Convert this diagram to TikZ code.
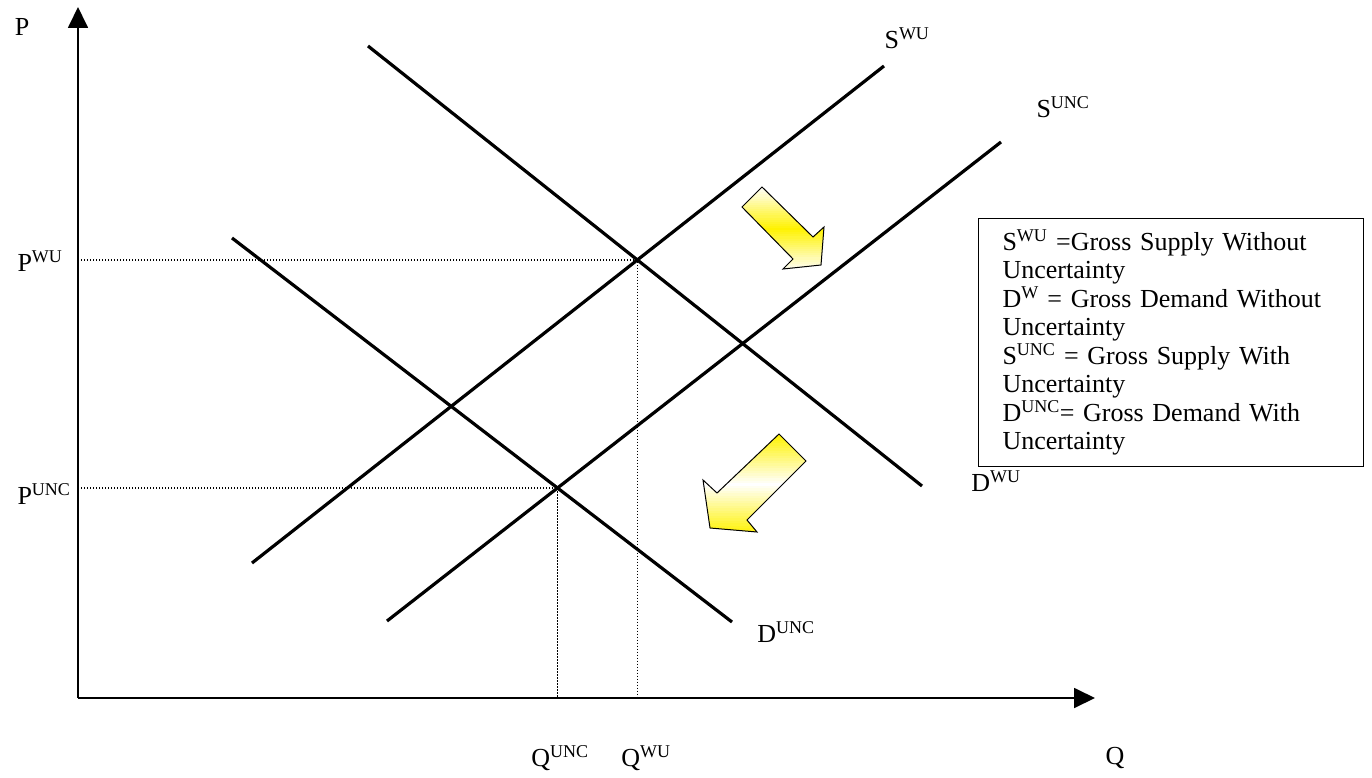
\documentclass[tikz,border=0pt]{standalone}
\usepackage{fontspec}
\setmainfont{Liberation Serif}
\usetikzlibrary{positioning,calc,arrows.meta}
\newcommand{\supx}[1]{\textsuperscript{\fontsize{18}{18}\selectfont #1}}

\begin{document}
\begin{tikzpicture}[x=1pt, y=-1pt,
    curve/.style={line width=3.2pt},
    axis/.style={line width=1.8pt, -{Triangle[length=21pt, width=20pt]}},
    guide/.style={line width=1.3pt, dash pattern=on 1.4pt off 1.6pt},
    lbl/.style={font=\fontsize{26}{29}\selectfont, inner sep=0pt},
    legend/.style={draw, line width=1pt, align=left, text width=337pt, inner xsep=24pt, inner ysep=11pt, font=\fontsize{26}{28.5}\selectfont},
    blockarrow/.style={draw, line width=1pt, line join=miter}
  ]
    \useasboundingbox (0,0) rectangle (1372,778);

    % axes
    \coordinate (origin) at (78,698);
    \coordinate (ptip) at (78,7);
    \coordinate (qtip) at (1095,698);
    \draw[axis] (origin) -- (ptip);
    \draw[axis] (origin) -- (qtip);

    % supply and demand curves
    \coordinate (swuA) at (252,563);   \coordinate (swuB) at (884,66);
    \coordinate (suncA) at (387,621);  \coordinate (suncB) at (1001,142);
    \coordinate (dwuA) at (368,46);    \coordinate (dwuB) at (922,486);
    \coordinate (duncA) at (232,238);  \coordinate (duncB) at (732,622);
    \draw[curve] (swuA) -- (swuB);
    \draw[curve] (suncA) -- (suncB);
    \draw[curve] (dwuA) -- (dwuB);
    \draw[curve] (duncA) -- (duncB);

    % equilibria
    \coordinate (eqwu) at (intersection of swuA--swuB and dwuA--dwuB);
    \coordinate (equnc) at (intersection of suncA--suncB and duncA--duncB);
    \draw[guide] (eqwu -| origin) -- (eqwu) -- (eqwu |- origin);
    \draw[guide] (equnc -| origin) -- (equnc) -- (equnc |- origin);

    % labels
    \node[lbl] (plbl) at (22,27) {P};
    \node[lbl] (pwu) at (40,261) {P\supx{WU}};
    \node[lbl] (punc) at (44,494) {P\supx{UNC}};
    \node[lbl] (qunc) at (560,758) {Q\supx{UNC}};
    \node[lbl] (qwu) at (646,758) {Q\supx{WU}};
    \node[lbl] (qlbl) at (1115,758) {Q};
    \node[lbl] (swulbl) at (907,38) {S\supx{WU}};
    \node[lbl] (sunclbl) at (1063,107) {S\supx{UNC}};
    \node[lbl] (dwulbl) at (996,481) {D\supx{WU}};
    \node[lbl] (dunclbl) at (786,632) {D\supx{UNC}};

    % legend
    \node[legend, anchor=north west] (key) at (978,218) {S\supx{WU} =Gross Supply Without\\Uncertainty\\D\supx{W} = Gross Demand Without\\Uncertainty\\S\supx{UNC} = Gross Supply With\\Uncertainty\\D\supx{UNC}= Gross Demand With\\Uncertainty};

    % shift arrows (yellow bands, clipped)
    \begin{scope}
      \clip (742,207) -- (762,187) -- (813,237) -- (824,227) -- (821,265) -- (783,269) -- (793,259) -- cycle;
      \foreach \k [evaluate=\k as \mix using {100*(1-abs(2*\k/40-1))}] in {0,...,40}
        \fill[yellow!\mix!white] (735,186+\k*2.1) rectangle (830,188.5+\k*2.1);
    \end{scope}
    \draw[blockarrow] (742,207) -- (762,187) -- (813,237) -- (824,227) -- (821,265) -- (783,269) -- (793,259) -- cycle;
    \begin{scope}
      \clip (779,434) -- (806,461) -- (747,520) -- (757,532) -- (710,528) -- (703,480) -- (717,493) -- cycle;
      \foreach \k [evaluate=\k as \mix using {100*abs(2*\k/40-1)}] in {0,...,40}
        \fill[yellow!\mix!white] (700,433+\k*2.5) rectangle (810,436+\k*2.5);
    \end{scope}
    \draw[blockarrow] (779,434) -- (806,461) -- (747,520) -- (757,532) -- (710,528) -- (703,480) -- (717,493) -- cycle;
  \end{tikzpicture}
\end{document}
